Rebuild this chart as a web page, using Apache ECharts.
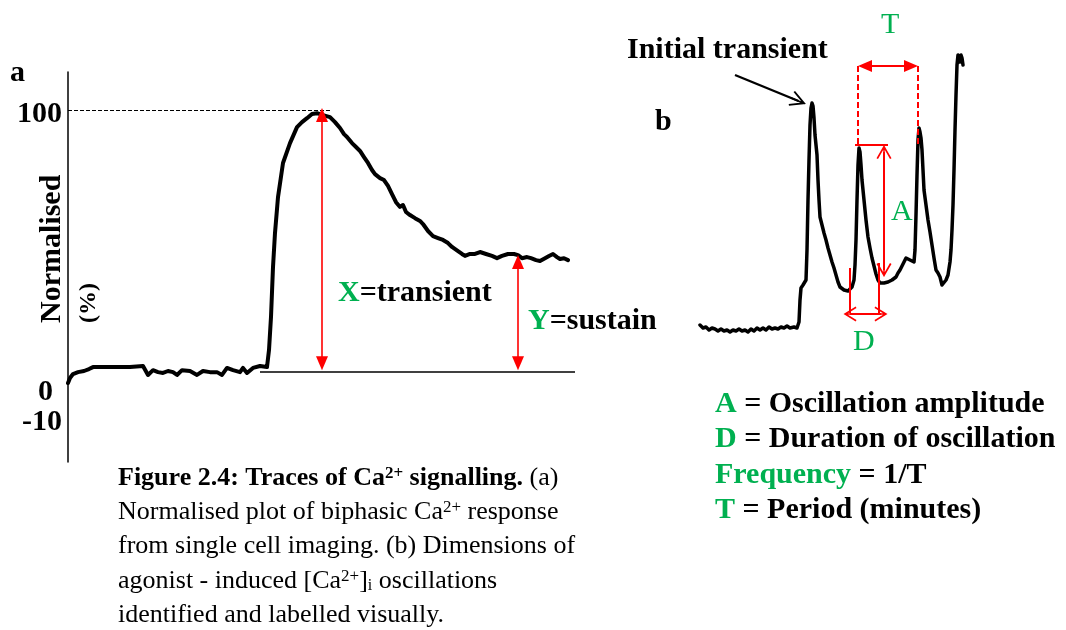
<!DOCTYPE html>
<html>
<head>
<meta charset="utf-8">
<script src="https://cdn.jsdelivr.net/npm/echarts@6/dist/echarts.min.js"></script>
<style>
  html, body { margin: 0; padding: 0; background: #fff; }
  #chart { width: 1066px; height: 630px; }
</style>
</head>
<body>
<div id="chart"></div>
<script>
// ---------- Panel a: normalised biphasic Ca2+ response (time in s, % of peak) ----------
const traceATime = [0, 4, 10, 20, 32, 42, 50, 84, 124, 150, 154, 160, 170, 180, 190, 200, 210, 218, 228, 244,
  258, 270, 284, 298, 308, 318, 330, 344, 350, 358, 370, 384, 398, 402, 406, 410, 414, 420, 430, 444,
  458, 468, 478, 488, 498, 510, 524, 534, 544, 552, 558, 568, 576, 584, 592, 600, 608, 614, 624, 632,
  640, 648, 656, 660, 664, 670, 676, 684, 694, 704, 710, 720, 730, 740, 750, 760, 768, 780, 788, 794,
  804, 814, 824, 836, 848, 858, 868, 880, 892, 900, 908, 918, 926, 936, 944, 954, 962, 970, 978, 984,
  992, 1000];
const traceAValue = [2.5, 4.3, 5.7, 6.4, 6.8, 7.5, 8.2, 8.2, 8.2, 8.6, 8.9, 5.4, 7.1, 6.4, 6.1, 6.8, 6.4, 5.4, 7.1, 6.8,
  5.4, 6.8, 6.4, 6.4, 5.4, 7.9, 7.1, 6.4, 7.9, 6.1, 7.9, 8.6, 8.2, 14.3, 26.1, 43.9, 56.1, 68.9, 81.1, 88.2,
  93.9, 95.7, 97.1, 98.6, 98.9, 98.2, 97.5, 95.7, 93.6, 91.4, 90.4, 88.2, 86.8, 85.4, 83.2, 81.1, 78.6, 77.1, 75.7, 75.0,
  72.9, 70.0, 67.1, 66.4, 65.4, 66.1, 63.6, 62.5, 61.4, 60.4, 59.3, 56.8, 55.0, 54.3, 53.6, 52.5, 51.1, 49.6, 48.6, 47.9,
  48.6, 48.6, 49.3, 48.6, 47.9, 47.1, 47.9, 48.6, 48.6, 48.2, 47.1, 47.5, 47.1, 46.4, 46.1, 47.1, 47.9, 48.6, 47.5, 46.8,
  47.1, 46.4];
const yTicksA = [-10, 0, 100];

// ---------- Panel b: agonist-induced oscillations (time in s, fluorescence ratio) ----------
const traceBTime = [0, 6, 12, 18, 24, 30, 36, 42, 48, 54, 60, 66, 72, 78, 84, 90, 96, 102, 108, 114,
  120, 126, 132, 138, 144, 150, 156, 162, 168, 174, 180, 188, 194, 198, 200, 202, 206, 210, 212, 214,
  216, 218, 220, 222, 224, 226, 228, 230, 234, 236, 238, 240, 244, 248, 252, 256, 260, 264, 268, 272,
  276, 280, 284, 288, 292, 296, 300, 304, 308, 310, 312, 314, 316, 318, 320, 322, 324, 328, 332, 336,
  340, 344, 348, 352, 356, 360, 364, 368, 372, 376, 380, 384, 388, 392, 396, 400, 404, 408, 412, 416,
  420, 424, 428, 430, 432, 434, 436, 438, 440, 442, 444, 446, 448, 452, 456, 460, 464, 468, 472, 476,
  480, 484, 488, 492, 496, 500, 502, 504, 506, 508, 510, 512, 514, 516, 518, 520, 522, 524, 526];
const traceBValue = [0.625, 0.61, 0.615, 0.6, 0.61, 0.605, 0.595, 0.605, 0.595, 0.6, 0.59, 0.6, 0.595, 0.605, 0.595, 0.6, 0.59, 0.605, 0.595, 0.61,
  0.6, 0.61, 0.6, 0.615, 0.605, 0.61, 0.605, 0.615, 0.61, 0.62, 0.61, 0.615, 0.61, 0.64, 0.75, 0.81, 0.825, 0.815, 0.85, 1.0,
  1.25, 1.45, 1.625, 1.71, 1.735, 1.72, 1.66, 1.575, 1.475, 1.35, 1.25, 1.165, 1.125, 1.085, 1.05, 1.01, 0.975, 0.94, 0.91, 0.875,
  0.84, 0.815, 0.81, 0.8, 0.805, 0.795, 0.8, 0.815, 0.85, 0.925, 1.05, 1.25, 1.425, 1.51, 1.49, 1.425, 1.35, 1.25, 1.15, 1.065,
  1.01, 0.96, 0.92, 0.88, 0.85, 0.835, 0.825, 0.835, 0.83, 0.84, 0.845, 0.85, 0.86, 0.865, 0.885, 0.9, 0.91, 0.94, 0.96, 0.96,
  0.95, 0.945, 0.94, 1.0, 1.175, 1.375, 1.55, 1.61, 1.59, 1.56, 1.5, 1.4, 1.3, 1.225, 1.15, 1.09, 1.025, 0.96, 0.9, 0.885,
  0.865, 0.825, 0.82, 0.85, 0.875, 0.94, 1.0, 1.1, 1.225, 1.4, 1.6, 1.775, 1.925, 1.975, 1.96, 1.94, 1.975, 1.96, 1.925];

// ---------- Text ----------
const captionLines = [
  '{b|Figure 2.4: Traces of Ca}{bs|2+}{b| signalling.} (a)',
  'Normalised plot of biphasic Ca{s|2+} response',
  'from single cell imaging. (b) Dimensions of',
  'agonist - induced [Ca{s|2+}]{sub|i} oscillations',
  'identified and labelled visually.'
];
const legendLines = [
  ['A', ' = Oscillation amplitude'],
  ['D', ' = Duration of oscillation'],
  ['Frequency', ' = 1/T'],
  ['T', ' = Period (minutes)']
];

const SERIF = "'Liberation Serif', 'Times New Roman', serif";
const GREEN = '#00b050';
const RED = '#ff0000';

// Open "V" arrow head with a stem (tip points outward along the line)
const OPEN_HEAD = 'path://M8,0 L16,15 L14.4,16 L8,4 L1.6,16 L0,15 Z M7.2,1 L8.8,1 L8.8,16 L7.2,16 Z';

function seg(p1, p2, style, sym1, sym2, size) {
  return [
    { coord: p1, lineStyle: style, symbol: sym1 || 'none', symbolSize: size || 10 },
    { coord: p2, symbol: sym2 || 'none', symbolSize: size || 10 }
  ];
}

const pairsA = traceATime.map((t, i) => [t, traceAValue[i]]);
const pairsB = traceBTime.map((t, i) => [t, traceBValue[i]]);

const redLine = { color: RED, width: 1.6, type: 'solid' };

const marksA = [
  seg([0, 100], [524, 100], { color: '#000', width: 1, type: [4, 2] }),
  seg([384, 6.4], [1014, 6.4], { color: '#000', width: 1.5, type: 'solid' }),
  seg([508, 98.2], [508, 9.6], redLine, 'triangle', 'triangle', [12, 14]),
  seg([900, 45.7], [900, 9.6], redLine, 'triangle', 'triangle', [12, 14])
];

const marksB = [
  // pointer to the first spike
  seg([70, 1.875], [197, 1.745], { color: '#000', width: 2.4, type: 'solid' }, 'none', OPEN_HEAD, [16, 16]),
  // period T
  seg([330, 1.92], [422, 1.92], { color: RED, width: 2, type: 'solid' }, 'triangle', 'triangle', [12, 14]),
  seg([316, 1.92], [316, 1.525], { color: RED, width: 2, type: [6, 3] }),
  seg([436, 1.92], [436, 1.525], { color: RED, width: 2, type: [6, 3] }),
  // amplitude A
  seg([310, 1.525], [376, 1.525], { color: RED, width: 2, type: 'solid' }),
  seg([368, 1.49], [368, 0.9], { color: RED, width: 2, type: 'solid' }, OPEN_HEAD, OPEN_HEAD, [15, 14]),
  // duration D
  seg([300, 0.91], [300, 0.685], { color: RED, width: 2, type: 'solid' }),
  seg([358, 0.935], [358, 0.685], { color: RED, width: 2, type: 'solid' }),
  seg([300, 0.68], [362, 0.68], { color: RED, width: 2, type: 'solid' }, OPEN_HEAD, OPEN_HEAD, [15, 13])
];

function txt(x, y, rich, text, extra) {
  return Object.assign({
    type: 'text', x: x, y: y, silent: true,
    style: {
      text: text, rich: rich,
      align: 'left', textAlign: 'left',
      verticalAlign: 'middle', textVerticalAlign: 'middle'
    }
  }, extra || {});
}

const boldRich = {
  k: { fontFamily: SERIF, fontSize: 30, fontWeight: 'bold', fill: '#000' },
  g: { fontFamily: SERIF, fontSize: 30, fontWeight: 'bold', fill: GREEN },
  gr: { fontFamily: SERIF, fontSize: 30, fill: GREEN }
};
const legendRich = {
  k: { fontFamily: SERIF, fontSize: 30, fontWeight: 'bold', fill: '#000' },
  g: { fontFamily: SERIF, fontSize: 30, fontWeight: 'bold', fill: GREEN }
};
const capRich = {
  r: { fontFamily: SERIF, fontSize: 26, fill: '#000' },
  b: { fontFamily: SERIF, fontSize: 26, fontWeight: 'bold', fill: '#000' },
  bs: { fontFamily: SERIF, fontSize: 17, fontWeight: 'bold', fill: '#000', verticalAlign: 'top' },
  s: { fontFamily: SERIF, fontSize: 17, fill: '#000', verticalAlign: 'top' },
  sub: { fontFamily: SERIF, fontSize: 16, fill: '#000', verticalAlign: 'bottom' }
};

// wrap plain runs of a caption line in the regular style
function capText(line) {
  return line.split(/(\{[a-z]+\|[^}]*\})/).filter(s => s.length)
    .map(s => s.startsWith('{') ? s : '{r|' + s + '}').join('');
}

const graphics = [
  txt(10, 73, boldRich, '{k|a}'),
  txt(655, 122, boldRich, '{k|b}'),
  txt(52, 323, boldRich, '{k|Normalised}', { rotation: Math.PI / 2 }),
  txt(89, 323, { k: { fontFamily: SERIF, fontSize: 24, fontWeight: 'bold', fill: '#000' } }, '{k|(%)}', { rotation: Math.PI / 2 }),
  txt(338, 293, boldRich, '{g|X}{k|=transient}'),
  txt(528, 321, boldRich, '{g|Y}{k|=sustain}'),
  txt(627, 50, boldRich, '{k|Initial transient}'),
  txt(881, 25, boldRich, '{gr|T}'),
  txt(891, 212, boldRich, '{gr|A}'),
  txt(853, 342, boldRich, '{gr|D}')
];
legendLines.forEach((l, i) => {
  graphics.push(txt(715, [404, 439, 475, 510][i], legendRich, '{g|' + l[0] + '}{k|' + l[1] + '}'));
});
captionLines.forEach((l, i) => {
  graphics.push(txt(118, [478, 512, 546, 581, 615][i], capRich, capText(l)));
});

const chart = echarts.init(document.getElementById('chart'), null, { renderer: 'canvas' });
chart.setOption({
  animation: false,
  backgroundColor: '#fff',
  grid: [
    { left: 68, top: 72, width: 510, height: 390 },
    { left: 700, top: 40, width: 270, height: 310 }
  ],
  xAxis: [
    { type: 'value', gridIndex: 0, min: 0, max: 1020, show: false },
    { type: 'value', gridIndex: 1, min: 0, max: 540, show: false }
  ],
  yAxis: [
    {
      type: 'value', gridIndex: 0, min: -25.7, max: 113.6,
      splitLine: { show: false },
      axisTick: { show: false },
      axisLine: { show: true, onZero: false, lineStyle: { color: '#000', width: 1.5 } },
      axisLabel: {
        customValues: yTicksA,
        margin: 6,
        fontFamily: SERIF, fontSize: 30, fontWeight: 'bold', color: '#000',
        formatter: v => (v === 0 ? '{z|0}' : '{n|' + v + '}'),
        rich: {
          n: { fontFamily: SERIF, fontSize: 30, fontWeight: 'bold', color: '#000', padding: [8, 0, 0, 0] },
          z: { fontFamily: SERIF, fontSize: 30, fontWeight: 'bold', color: '#000', padding: [4, 9, 0, 0] }
        }
      }
    },
    { type: 'value', gridIndex: 1, min: 0.5, max: 2.05, show: false }
  ],
  series: [
    {
      type: 'line', xAxisIndex: 0, yAxisIndex: 0, data: pairsA,
      showSymbol: false, symbol: 'none', silent: true, clip: false,
      lineStyle: { color: '#000', width: 4, cap: 'round', join: 'round' },
      markLine: { silent: true, animation: false, symbol: 'none', label: { show: false }, data: marksA }
    },
    {
      type: 'line', xAxisIndex: 1, yAxisIndex: 1, data: pairsB,
      showSymbol: false, symbol: 'none', silent: true, clip: false,
      lineStyle: { color: '#000', width: 3.5, cap: 'round', join: 'round' },
      markLine: { silent: true, animation: false, symbol: 'none', label: { show: false }, data: marksB }
    }
  ],
  graphic: { elements: graphics }
});
</script>
</body>
</html>
